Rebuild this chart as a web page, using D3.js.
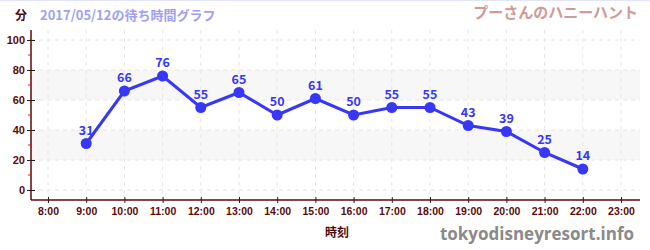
<!DOCTYPE html>
<html>
<head>
<meta charset="utf-8">
<script src="https://cdn.jsdelivr.net/npm/d3@7"></script>
<style>
    body { margin: 0; background: #fff; }
    svg { display: block; font-family: "Noto Sans CJK JP", "Noto Sans", sans-serif; }
</style>
</head>
<body>
<svg id="chart" width="650" height="250"></svg>
<script>
'use strict';

// data
var hours = [9, 10, 11, 12, 13, 14, 15, 16, 17, 18, 19, 20, 21, 22];
var waits = [31, 66, 76, 55, 65, 50, 61, 50, 55, 55, 43, 39, 25, 14];
var hourTicks = d3.range(8, 24);
var yTicks = [0, 20, 40, 60, 80, 100];
var yMinorTicks = [10, 30, 50, 70, 90];
var bands = [[20, 40], [60, 80]];

var AXIS_COLOR = '#5a0a0a';
var LINE_COLOR = '#3737f5';

var svg = d3.select('#chart');

var x = d3.scaleLinear().domain([8, 23]).range([48, 621]);
var y = d3.scaleLinear().domain([0, 100]).range([190, 40]);
var plotLeft = 31, plotRight = 640, plotBottom = 200, plotTop = 30;

// top border
svg.append('line').attr('x1', 0).attr('x2', 650).attr('y1', 0.5).attr('y2', 0.5)
    .attr('stroke', '#e4e4f8');

// bands
svg.selectAll('.band').data(bands).enter().append('rect')
    .attr('x', plotLeft).attr('width', plotRight - plotLeft)
    .attr('y', function (d) { return y(d[1]); })
    .attr('height', function (d) { return y(d[0]) - y(d[1]); })
    .attr('fill', '#f7f7f7');

// grid
svg.selectAll('.vgrid').data(hourTicks).enter().append('line')
    .attr('x1', function (d) { return x(d); }).attr('x2', function (d) { return x(d); })
    .attr('y1', plotTop).attr('y2', plotBottom)
    .attr('stroke', '#e6e6e6').attr('stroke-dasharray', '4,4');
svg.selectAll('.hgrid').data(yTicks).enter().append('line')
    .attr('x1', plotLeft).attr('x2', plotRight)
    .attr('y1', function (d) { return y(d); }).attr('y2', function (d) { return y(d); })
    .attr('stroke', '#e6e6e6').attr('stroke-dasharray', '4,4');

// y axis
var yAxis = svg.append('g').attr('transform', 'translate(' + plotLeft + ',0)')
    .call(d3.axisLeft(y).tickValues(yTicks).tickSize(4).tickPadding(2));
yAxis.select('.domain').remove();
yAxis.append('line').attr('x1', 0).attr('x2', 0).attr('y1', plotTop).attr('y2', plotBottom)
    .attr('stroke', AXIS_COLOR).attr('stroke-width', 1.5);
yAxis.selectAll('.tick line').attr('x2', 4).attr('x1', -4).attr('stroke', '#222');
yAxis.selectAll('.tick text').attr('x', -6).attr('fill', AXIS_COLOR)
    .style('font-size', '11px').style('font-weight', 'bold');
yAxis.selectAll('.minor').data(yMinorTicks).enter().append('line')
    .attr('x1', -3).attr('x2', 0)
    .attr('y1', function (d) { return y(d); }).attr('y2', function (d) { return y(d); })
    .attr('stroke', '#d02020');

// x axis
var xAxis = svg.append('g').attr('transform', 'translate(0,' + plotBottom + ')')
    .call(d3.axisBottom(x).tickValues(hourTicks).tickSize(4).tickPadding(4)
        .tickFormat(function (d) { return d + ':00'; }));
xAxis.select('.domain').remove();
xAxis.append('line').attr('x1', plotLeft).attr('x2', plotRight).attr('y1', 0).attr('y2', 0)
    .attr('stroke', AXIS_COLOR).attr('stroke-width', 1.5);
xAxis.selectAll('.tick line').attr('y1', -3).attr('y2', 3).attr('stroke', '#222');
xAxis.selectAll('.tick text').attr('fill', AXIS_COLOR)
    .style('font-size', '10.5px').style('font-weight', 'bold');

// line + points
var pts = hours.map(function (h, i) { return { h: h, v: waits[i] }; });
svg.append('path').datum(pts)
    .attr('d', d3.line().x(function (d) { return x(d.h); }).y(function (d) { return y(d.v); }))
    .attr('fill', 'none').attr('stroke', LINE_COLOR).attr('stroke-width', 3);
svg.selectAll('.pt').data(pts).enter().append('circle')
    .attr('cx', function (d) { return x(d.h); }).attr('cy', function (d) { return y(d.v); })
    .attr('r', 5.5).attr('fill', LINE_COLOR);
svg.selectAll('.lbl').data(pts).enter().append('text')
    .attr('x', function (d) { return x(d.h); }).attr('y', function (d) { return y(d.v) - 9; })
    .attr('text-anchor', 'middle').attr('fill', LINE_COLOR)
    .style('font-size', '12.5px').style('font-weight', 'bold')
    .text(function (d) { return d.v; });

// titles
svg.append('text').attr('x', 15).attr('y', 20).attr('fill', '#4a0a0a')
    .style('font-size', '12px').style('font-weight', 'bold').text('分');
svg.append('text').attr('x', 40).attr('y', 20).attr('fill', '#a0a0f2')
    .style('font-size', '13px').style('font-weight', 'bold').text('2017/05/12の待ち時間グラフ');
svg.append('text').attr('x', 638).attr('y', 18).attr('text-anchor', 'end').attr('fill', '#d09a9a')
    .style('font-size', '15px').style('font-weight', 'bold').text('プーさんのハニーハント');
svg.append('text').attr('x', 337).attr('y', 237).attr('text-anchor', 'middle').attr('fill', '#4a0a0a')
    .style('font-size', '12px').style('font-weight', 'bold').text('時刻');
svg.append('text').attr('x', 634).attr('y', 240).attr('text-anchor', 'end').attr('fill', '#8a8a8a')
    .style('font-family', '"Open Sans", "Noto Sans", sans-serif')
    .style('font-size', '17px').style('font-weight', 'bold').text('tokyodisneyresort.info');
</script>
</body>
</html>
